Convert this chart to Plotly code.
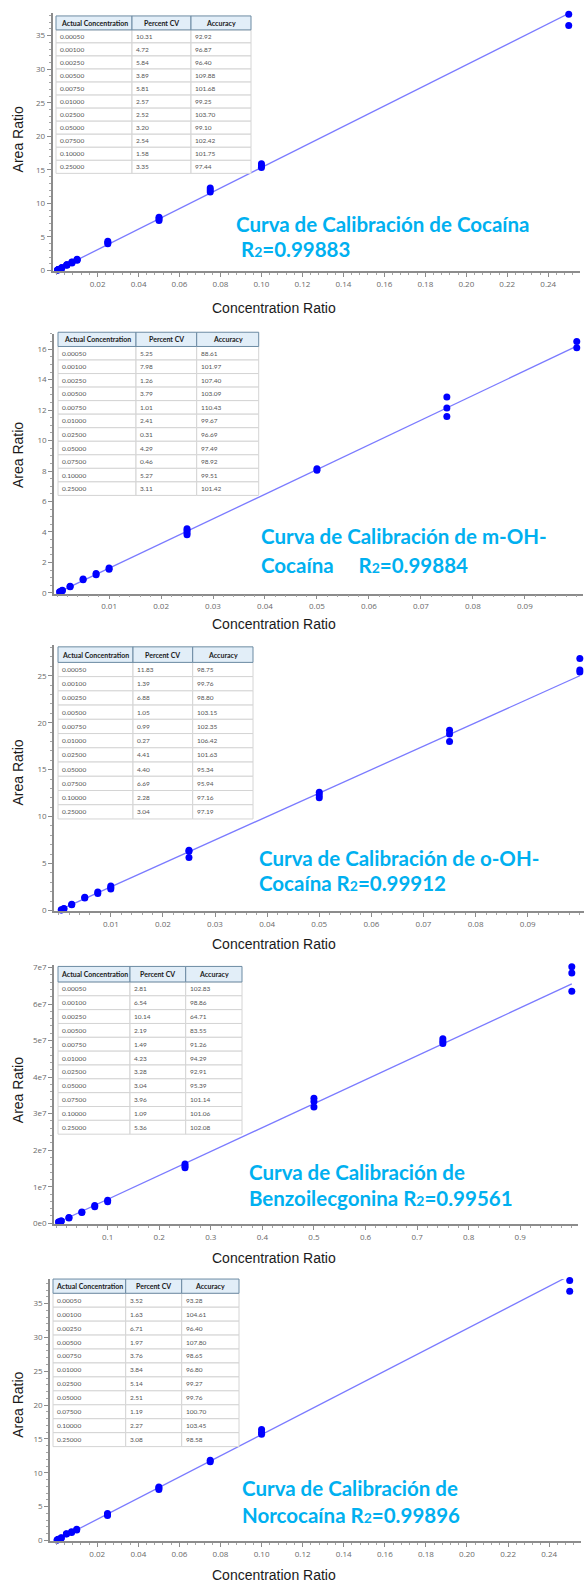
import plotly.graph_objects as go

FIG_W, FIG_H = 587, 1585

# ---------------------------------------------------------------- shared text
conc_labels = ["0.00050", "0.00100", "0.00250", "0.00500", "0.00750", "0.01000",
               "0.02500", "0.05000", "0.07500", "0.10000", "0.25000"]
table_header = ["Actual Concentration", "Percent CV", "Accuracy"]
x_title = "Concentration Ratio"
y_title = "Area Ratio"

xt_025 = ["0.02", "0.04", "0.06", "0.08", "0.10", "0.12", "0.14", "0.16",
          "0.18", "0.20", "0.22", "0.24"]
xt_010 = ["0.01", "0.02", "0.03", "0.04", "0.05", "0.06", "0.07", "0.08", "0.09"]
xt_100 = ["0.1", "0.2", "0.3", "0.4", "0.5", "0.6", "0.7", "0.8", "0.9"]
yt_35 = ["0", "5", "10", "15", "20", "25", "30", "35"]
yt_16 = ["0", "2", "4", "6", "8", "10", "12", "14", "16"]
yt_25 = ["0", "5", "10", "15", "20", "25"]
yt_7e7 = ["0e0", "1e7", "2e7", "3e7", "4e7", "5e7", "6e7", "7e7"]

# ---------------------------------------------------------------- Cocaína
coc_levels = [0.0005, 0.001, 0.0025, 0.005, 0.0075, 0.01, 0.025, 0.05, 0.075, 0.1, 0.25]
coc_area = [[0.07, 0.09, 0.08], [0.15, 0.17, 0.16], [0.38, 0.41, 0.43], [0.80, 0.86, 0.88],
            [1.14, 1.22, 1.28], [1.52, 1.60, 1.68], [4.00, 4.15, 4.35], [7.45, 7.70, 7.95],
            [11.70, 12.00, 12.30], [15.35, 15.60, 15.90], [36.50, 38.20]]
coc_slope, coc_intercept = 153.0, 0.05
coc_cv = [10.31, 4.72, 5.84, 3.89, 5.81, 2.57, 2.52, 3.20, 2.54, 1.58, 3.35]
coc_acc = [92.92, 96.87, 96.40, 109.88, 101.68, 99.25, 103.70, 99.10, 102.42, 101.75, 97.44]
coc_caption = ("Curva de Calibración de Cocaína", "\u00a0")
coc_r2 = "0.99883"

# ---------------------------------------------------------------- m-OH-Cocaína
moh_levels = [0.0005, 0.001, 0.0025, 0.005, 0.0075, 0.01, 0.025, 0.05, 0.075, 0.1]
moh_area = [[0.06, 0.08], [0.15, 0.17], [0.40, 0.44], [0.86, 0.91], [1.20, 1.28],
            [1.55, 1.63], [3.82, 3.95, 4.10, 4.22], [8.05, 8.15], [11.58, 12.14, 12.86],
            [16.10, 16.50, 17.15]]
moh_slope, moh_intercept = 162.0, 0.0
moh_cv = [5.25, 7.98, 1.26, 3.79, 1.01, 2.41, 0.31, 4.29, 0.46, 5.27, 3.11]
moh_acc = [88.61, 101.97, 107.40, 103.09, 110.43, 99.67, 96.69, 97.49, 98.92, 99.51, 101.42]
moh_caption = ("Curva de Calibración de m-OH-", "Cocaína\u00a0\u00a0\u00a0\u00a0 ")
moh_r2 = "0.99884"

# ---------------------------------------------------------------- o-OH-Cocaína
ooh_levels = [0.0005, 0.001, 0.0025, 0.005, 0.0075, 0.01, 0.025, 0.05, 0.075, 0.1]
ooh_area = [[0.05, 0.07], [0.16, 0.20], [0.60, 0.66], [1.32, 1.40], [1.80, 1.96],
            [2.28, 2.45, 2.60], [5.65, 6.30, 6.42], [12.00, 12.30, 12.60],
            [18.00, 18.80, 19.20], [25.40, 25.60, 26.85, 28.30]]
ooh_slope, ooh_intercept = 250.0, 0.0
ooh_cv = [11.83, 1.39, 6.88, 1.05, 0.99, 0.27, 4.41, 4.40, 6.69, 2.28, 3.04]
ooh_acc = [98.75, 99.76, 98.80, 103.15, 102.35, 106.42, 101.63, 95.34, 95.94, 97.16, 97.19]
ooh_caption = ("Curva de Calibración de o-OH-", "Cocaína ")
ooh_r2 = "0.99912"

# ---------------------------------------------------------------- Benzoilecgonina
bze_levels = [0.005, 0.01, 0.025, 0.05, 0.075, 0.1, 0.25, 0.5, 0.75, 1.0]
bze_area = [[3.2e5, 3.5e5], [6.0e5, 6.3e5], [1.45e6, 1.55e6], [2.95e6, 3.10e6],
            [4.50e6, 4.85e6], [5.90e6, 6.30e6], [1.52e7, 1.57e7, 1.62e7],
            [3.18e7, 3.33e7, 3.42e7], [4.92e7, 4.98e7, 5.05e7], [6.35e7, 6.85e7, 7.02e7]]
bze_slope, bze_intercept = 6.55e7, 0.0
bze_cv = [2.81, 6.54, 10.14, 2.19, 1.49, 4.23, 3.28, 3.04, 3.96, 1.09, 5.36]
bze_acc = [102.83, 98.86, 64.71, 83.55, 91.26, 94.29, 92.91, 95.39, 101.14, 101.06, 102.08]
bze_caption = ("Curva de Calibración de", "Benzoilecgonina ")
bze_r2 = "0.99561"

# ---------------------------------------------------------------- Norcocaína
nor_levels = [0.0005, 0.001, 0.0025, 0.005, 0.0075, 0.01, 0.025, 0.05, 0.075, 0.1, 0.25]
nor_area = [[0.07, 0.09], [0.15, 0.17], [0.38, 0.42], [0.95, 1.00], [1.20, 1.30],
            [1.55, 1.66], [3.70, 3.85, 4.00], [7.55, 7.75, 7.90], [11.65, 11.85],
            [15.70, 16.00, 16.40], [36.80, 38.40]]
nor_slope, nor_intercept = 156.5, 0.0
nor_cv = [3.52, 1.63, 6.71, 1.97, 3.76, 3.84, 5.14, 2.51, 1.19, 2.27, 3.08]
nor_acc = [93.28, 104.61, 96.40, 107.80, 98.65, 96.80, 99.27, 99.76, 100.70, 103.45, 98.58]
nor_caption = ("Curva de Calibración de", "Norcocaína ")
nor_r2 = "0.99896"


def fx(px):
    return px / FIG_W


def fy(px):
    return 1 - px / FIG_H


# positions are in page pixels, converted to paper fractions below
panels = [
    dict(levels=coc_levels, area=coc_area, slope=coc_slope, icpt=coc_intercept,
         cv=coc_cv, acc=coc_acc, xlabels=xt_025, ylabels=yt_35,
         caption=coc_caption, r2=coc_r2,
         xdom=(52.5, 580), xrng=(-0.002, 0.2555), xminor=0.004,
         ydom=(10, 269.4), yrng=(-0.1, 38.38), yminor=1,
         table=dict(x=56, y=13, cols=[76, 59, 60], hh=14, rh=13.1),
         cap=(234, 221.7, 234, 247.3), ytitle=137, xtitle=306),
    dict(levels=moh_levels, area=moh_area, slope=moh_slope, icpt=moh_intercept,
         cv=moh_cv, acc=moh_acc, xlabels=xt_010, ylabels=yt_16,
         caption=moh_caption, r2=moh_r2,
         xdom=(54, 583), xrng=(-0.0006, 0.1012), xminor=0.002,
         ydom=(332, 593.3), yrng=(-0.05, 17.03), yminor=0.5,
         table=dict(x=58, y=330.7, cols=[78, 60.7, 62], hh=14.3, rh=13.6),
         cap=(259, 535.7, 259, 564.3), ytitle=454, xtitle=624),
    dict(levels=ooh_levels, area=ooh_area, slope=ooh_slope, icpt=ooh_intercept,
         cv=ooh_cv, acc=ooh_acc, xlabels=xt_010, ylabels=yt_25,
         caption=ooh_caption, r2=ooh_r2,
         xdom=(54, 584), xrng=(-0.0009, 0.1008), xminor=0.002,
         ydom=(645, 912.4), yrng=(-0.1, 28.26), yminor=1,
         table=dict(x=58, y=646.7, cols=[75, 59.7, 60.3], hh=15.6, rh=14.3),
         cap=(257, 859, 257, 884), ytitle=773, xtitle=945),
    dict(levels=bze_levels, area=bze_area, slope=bze_slope, icpt=bze_intercept,
         cv=bze_cv, acc=bze_acc, xlabels=xt_100, ylabels=yt_7e7,
         caption=bze_caption, r2=bze_r2,
         xdom=(54, 578), xrng=(-0.004, 1.012), xminor=0.02,
         ydom=(966, 1226.8), yrng=(-0.03e7, 7.076e7), yminor=2e6,
         table=dict(x=58, y=967.7, cols=[72, 55.7, 56.3], hh=15.6, rh=13.9),
         cap=(247, 1174, 247, 1200), ytitle=1092, xtitle=1261),
    dict(levels=nor_levels, area=nor_area, slope=nor_slope, icpt=nor_intercept,
         cv=nor_cv, acc=nor_acc, xlabels=xt_025, ylabels=yt_35,
         caption=nor_caption, r2=nor_r2,
         xdom=(50, 581), xrng=(-0.003, 0.2555), xminor=0.004,
         ydom=(1281.7, 1545), yrng=(-0.1, 38.62), yminor=1,
         table=dict(x=53, y=1281.7, cols=[72.7, 56, 57.3], hh=14.3, rh=14),
         cap=(240, 1491.7, 240, 1519), ytitle=1408, xtitle=1579),
]

AXIS_GREY = "#8c8c8c"
axis_style = dict(showgrid=False, zeroline=False, showline=True, linecolor=AXIS_GREY,
                  linewidth=1.5, ticks="outside", ticklen=4, tickwidth=1,
                  tickcolor=AXIS_GREY,
                  tickfont=dict(family="Open Sans", size=8, color="#6a6a6a"))
CAPTION_BLUE = "#00B0F0"
R2_MARK = "R<span style='font-size:14px'>2</span>="
HEADER_FILL = "#e2eef8"
HEADER_LINE = "#6d8ba3"
CELL_LINE = "#d4d4d4"

fig = go.Figure()
layout_axes = {}
annotations = []
shapes = []


def add_table(t, columns):
    """Results grid: a header row and one row per calibration level."""
    edges = [t["x"]]
    for w in t["cols"]:
        edges.append(edges[-1] + w)
    top, hh, rh = t["y"], t["hh"], t["rh"]
    n_rows = len(columns[0])
    for r in range(n_rows):
        ry = top + hh + r * rh
        for c in range(len(columns)):
            shapes.append(dict(type="rect", xref="paper", yref="paper",
                               x0=fx(edges[c]), x1=fx(edges[c + 1]),
                               y0=fy(ry + rh), y1=fy(ry),
                               fillcolor="white", line=dict(color=CELL_LINE, width=1)))
            annotations.append(dict(xref="paper", yref="paper",
                                    x=fx(edges[c] + 2), y=fy(ry + rh / 2),
                                    text=columns[c][r], showarrow=False,
                                    xanchor="left", yanchor="middle",
                                    font=dict(family="Lato", size=6.5, color="#555555")))
    for c, name in enumerate(table_header):
        shapes.append(dict(type="rect", xref="paper", yref="paper",
                           x0=fx(edges[c]), x1=fx(edges[c + 1]),
                           y0=fy(top + hh), y1=fy(top),
                           fillcolor=HEADER_FILL, line=dict(color=HEADER_LINE, width=1)))
        annotations.append(dict(xref="paper", yref="paper",
                                x=fx((edges[c] + edges[c + 1]) / 2), y=fy(top + hh / 2),
                                text=f"<b>{name}</b>", showarrow=False,
                                xanchor="center", yanchor="middle",
                                font=dict(family="Lato", size=7, color="#1a1a1a")))


for i, p in enumerate(panels, start=1):
    xa = "x" if i == 1 else f"x{i}"
    ya = "y" if i == 1 else f"y{i}"
    xkey = "xaxis" if i == 1 else f"xaxis{i}"
    ykey = "yaxis" if i == 1 else f"yaxis{i}"

    # replicate injections at every calibration level
    xs = [lv for lv, reps in zip(p["levels"], p["area"]) for _ in reps]
    ys = [v for reps in p["area"] for v in reps]

    # regression line over the calibrated span
    fit_x = [0.0, max(p["levels"])]
    fit_y = [p["slope"] * v + p["icpt"] for v in fit_x]

    fig.add_trace(go.Scatter(x=fit_x, y=fit_y, mode="lines",
                             line=dict(color="rgba(70,70,255,0.72)", width=1.3),
                             xaxis=xa, yaxis=ya, showlegend=False, hoverinfo="skip"))
    fig.add_trace(go.Scatter(x=xs, y=ys, mode="markers",
                             marker=dict(color="#0000ff", size=7),
                             cliponaxis=False, xaxis=xa, yaxis=ya, showlegend=False))

    layout_axes[xkey] = dict(
        domain=[fx(p["xdom"][0]), fx(p["xdom"][1])], range=list(p["xrng"]), anchor=ya,
        tickmode="array", tickvals=[float(t) for t in p["xlabels"]], ticktext=p["xlabels"],
        minor=dict(tickmode="linear", tick0=0, dtick=p["xminor"], ticks="outside",
                   ticklen=2, tickcolor="#a5a5a5"),
        **axis_style)
    layout_axes[ykey] = dict(
        domain=[fy(p["ydom"][1]), fy(p["ydom"][0])], range=list(p["yrng"]), anchor=xa,
        tickmode="array", tickvals=[float(t) for t in p["ylabels"]], ticktext=p["ylabels"],
        minor=dict(tickmode="linear", tick0=0, dtick=p["yminor"], ticks="outside",
                   ticklen=2, tickcolor="#a5a5a5"),
        **axis_style)

    # summary table of the calibration levels
    add_table(p["table"], [conc_labels,
                           [f"{v:.2f}" for v in p["cv"]],
                           [f"{v:.2f}" for v in p["acc"]]])

    # axis titles
    annotations.append(dict(xref="paper", yref="paper", x=fx(18), y=fy(p["ytitle"]),
                            text=y_title, textangle=-90, showarrow=False,
                            xanchor="center", yanchor="middle",
                            font=dict(family="Arial, Liberation Sans", size=14,
                                      color="#1a1a1a")))
    annotations.append(dict(xref="paper", yref="paper", x=fx(274), y=fy(p["xtitle"]),
                            text=x_title, showarrow=False,
                            xanchor="center", yanchor="middle",
                            font=dict(family="Arial, Liberation Sans", size=14,
                                      color="#1a1a1a")))

    # caption with the determination coefficient
    cx1, cy1, cx2, cy2 = p["cap"]
    line1, line2 = p["caption"]
    cap_font = dict(family="Lato", size=20.5, color=CAPTION_BLUE)
    annotations.append(dict(xref="paper", yref="paper", x=fx(cx1), y=fy(cy1),
                            text=f"<b>{line1}</b>", showarrow=False,
                            xanchor="left", yanchor="middle", font=cap_font))
    annotations.append(dict(xref="paper", yref="paper", x=fx(cx2), y=fy(cy2),
                            text=f"<b>{line2}{R2_MARK}{p['r2']}</b>", showarrow=False,
                            xanchor="left", yanchor="middle", font=cap_font))

fig.update_layout(
    width=FIG_W, height=FIG_H,
    margin=dict(l=0, r=0, t=0, b=0),
    paper_bgcolor="white", plot_bgcolor="white",
    showlegend=False,
    shapes=shapes,
    annotations=annotations,
    **layout_axes,
)

fig.write_html("out.html")
